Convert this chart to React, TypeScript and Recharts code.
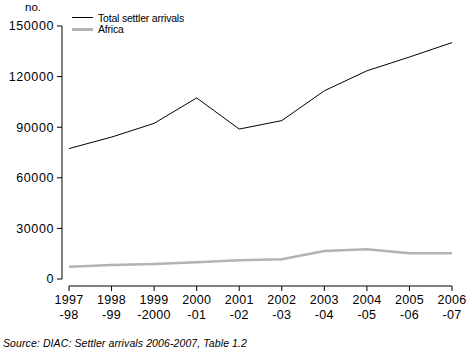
import { LineChart, Line, XAxis, YAxis } from 'recharts';

const years = ['1997', '1998', '1999', '2000', '2001', '2002', '2003', '2004', '2005', '2006'];
const yearEnds = ['-98', '-99', '-2000', '-01', '-02', '-03', '-04', '-05', '-06', '-07'];
const totalArrivals = [77327, 84143, 92272, 107366, 88900, 93914, 111590, 123424, 131593, 140148];
const africaArrivals = [7300, 8300, 8900, 9900, 11100, 11700, 16600, 17600, 15200, 15200];
const yTicks = [0, 30000, 60000, 90000, 120000, 150000];

const TOTAL_COLOR = '#000000';
const AFRICA_COLOR = '#b3b3b3';
const FONT = '"Liberation Sans", Arial, sans-serif';

const data = years.map((y, i) => ({
  label: y + yearEnds[i],
  total: totalArrivals[i],
  africa: africaArrivals[i],
}));

// two-line category label: year on top, end of financial year below
const YearTick = (props: any) => {
  const { x, y, index } = props;
  return (
    <text x={x} y={y} textAnchor="middle" fontFamily={FONT} fontSize={12.5} fill="#000" letterSpacing={0.3}>
      <tspan x={x} dy={11}>{years[index]}</tspan>
      <tspan x={x} dy={15}>{yearEnds[index]}</tspan>
    </text>
  );
};

const series = [
  { name: 'Total settler arrivals', color: TOTAL_COLOR, width: 1 },
  { name: 'Africa', color: AFRICA_COLOR, width: 2.5 },
];

export default function App() {
  return (
    <div style={{ position: 'absolute', left: 0, top: 0, width: 472, height: 354, background: '#fff' }}>
      <div style={{ position: 'absolute', left: 25, top: 1, fontFamily: FONT, fontSize: 11.5 }}>
        no.
      </div>
      {/* legend */}
      <div style={{ position: 'absolute', left: 72, top: 12, fontFamily: FONT, fontSize: 10.5 }}>
        {series.map((s) => (
          <div key={s.name} style={{ display: 'flex', alignItems: 'center', height: 11.5 }}>
            <div style={{ width: 21, height: s.width, background: s.color, marginRight: 5 }} />
            <span style={{ letterSpacing: -0.2 }}>{s.name}</span>
          </div>
        ))}
      </div>
      <LineChart
        width={472}
        height={354}
        data={data}
        margin={{ top: 26, right: 20, left: 0, bottom: 28 }}
      >
        <XAxis
          dataKey="label"
          height={40}
          interval={0}
          padding={{ left: 7, right: 0 }}
          tickSize={5}
          tickLine={{ stroke: '#000' }}
          axisLine={{ stroke: '#000', strokeDasharray: '0 7 383 0' }}
          tick={<YearTick />}
        />
        <YAxis
          width={62}
          domain={[0, 150000]}
          ticks={yTicks}
          interval={0}
          padding={{ top: 0, bottom: 7 }}
          tickSize={5}
          tickMargin={3}
          tickLine={{ stroke: '#000' }}
          axisLine={{ stroke: '#000', strokeDasharray: '253 7' }}
          tick={{ fontFamily: FONT, fontSize: 12.5, fill: '#000', letterSpacing: 0.6 }}
        />
        <Line
          type="linear"
          dataKey="africa"
          stroke={AFRICA_COLOR}
          strokeWidth={2.5}
          dot={false}
          isAnimationActive={false}
        />
        <Line
          type="linear"
          dataKey="total"
          stroke={TOTAL_COLOR}
          strokeWidth={1}
          dot={false}
          isAnimationActive={false}
        />
      </LineChart>
      <div
        style={{
          position: 'absolute',
          left: 3,
          top: 337,
          fontFamily: FONT,
          fontSize: 10.5,
          fontStyle: 'italic',
          letterSpacing: 0.1,
          whiteSpace: 'nowrap',
        }}
      >
        Source: DIAC: Settler arrivals 2006-2007, Table 1.2
      </div>
    </div>
  );
}
